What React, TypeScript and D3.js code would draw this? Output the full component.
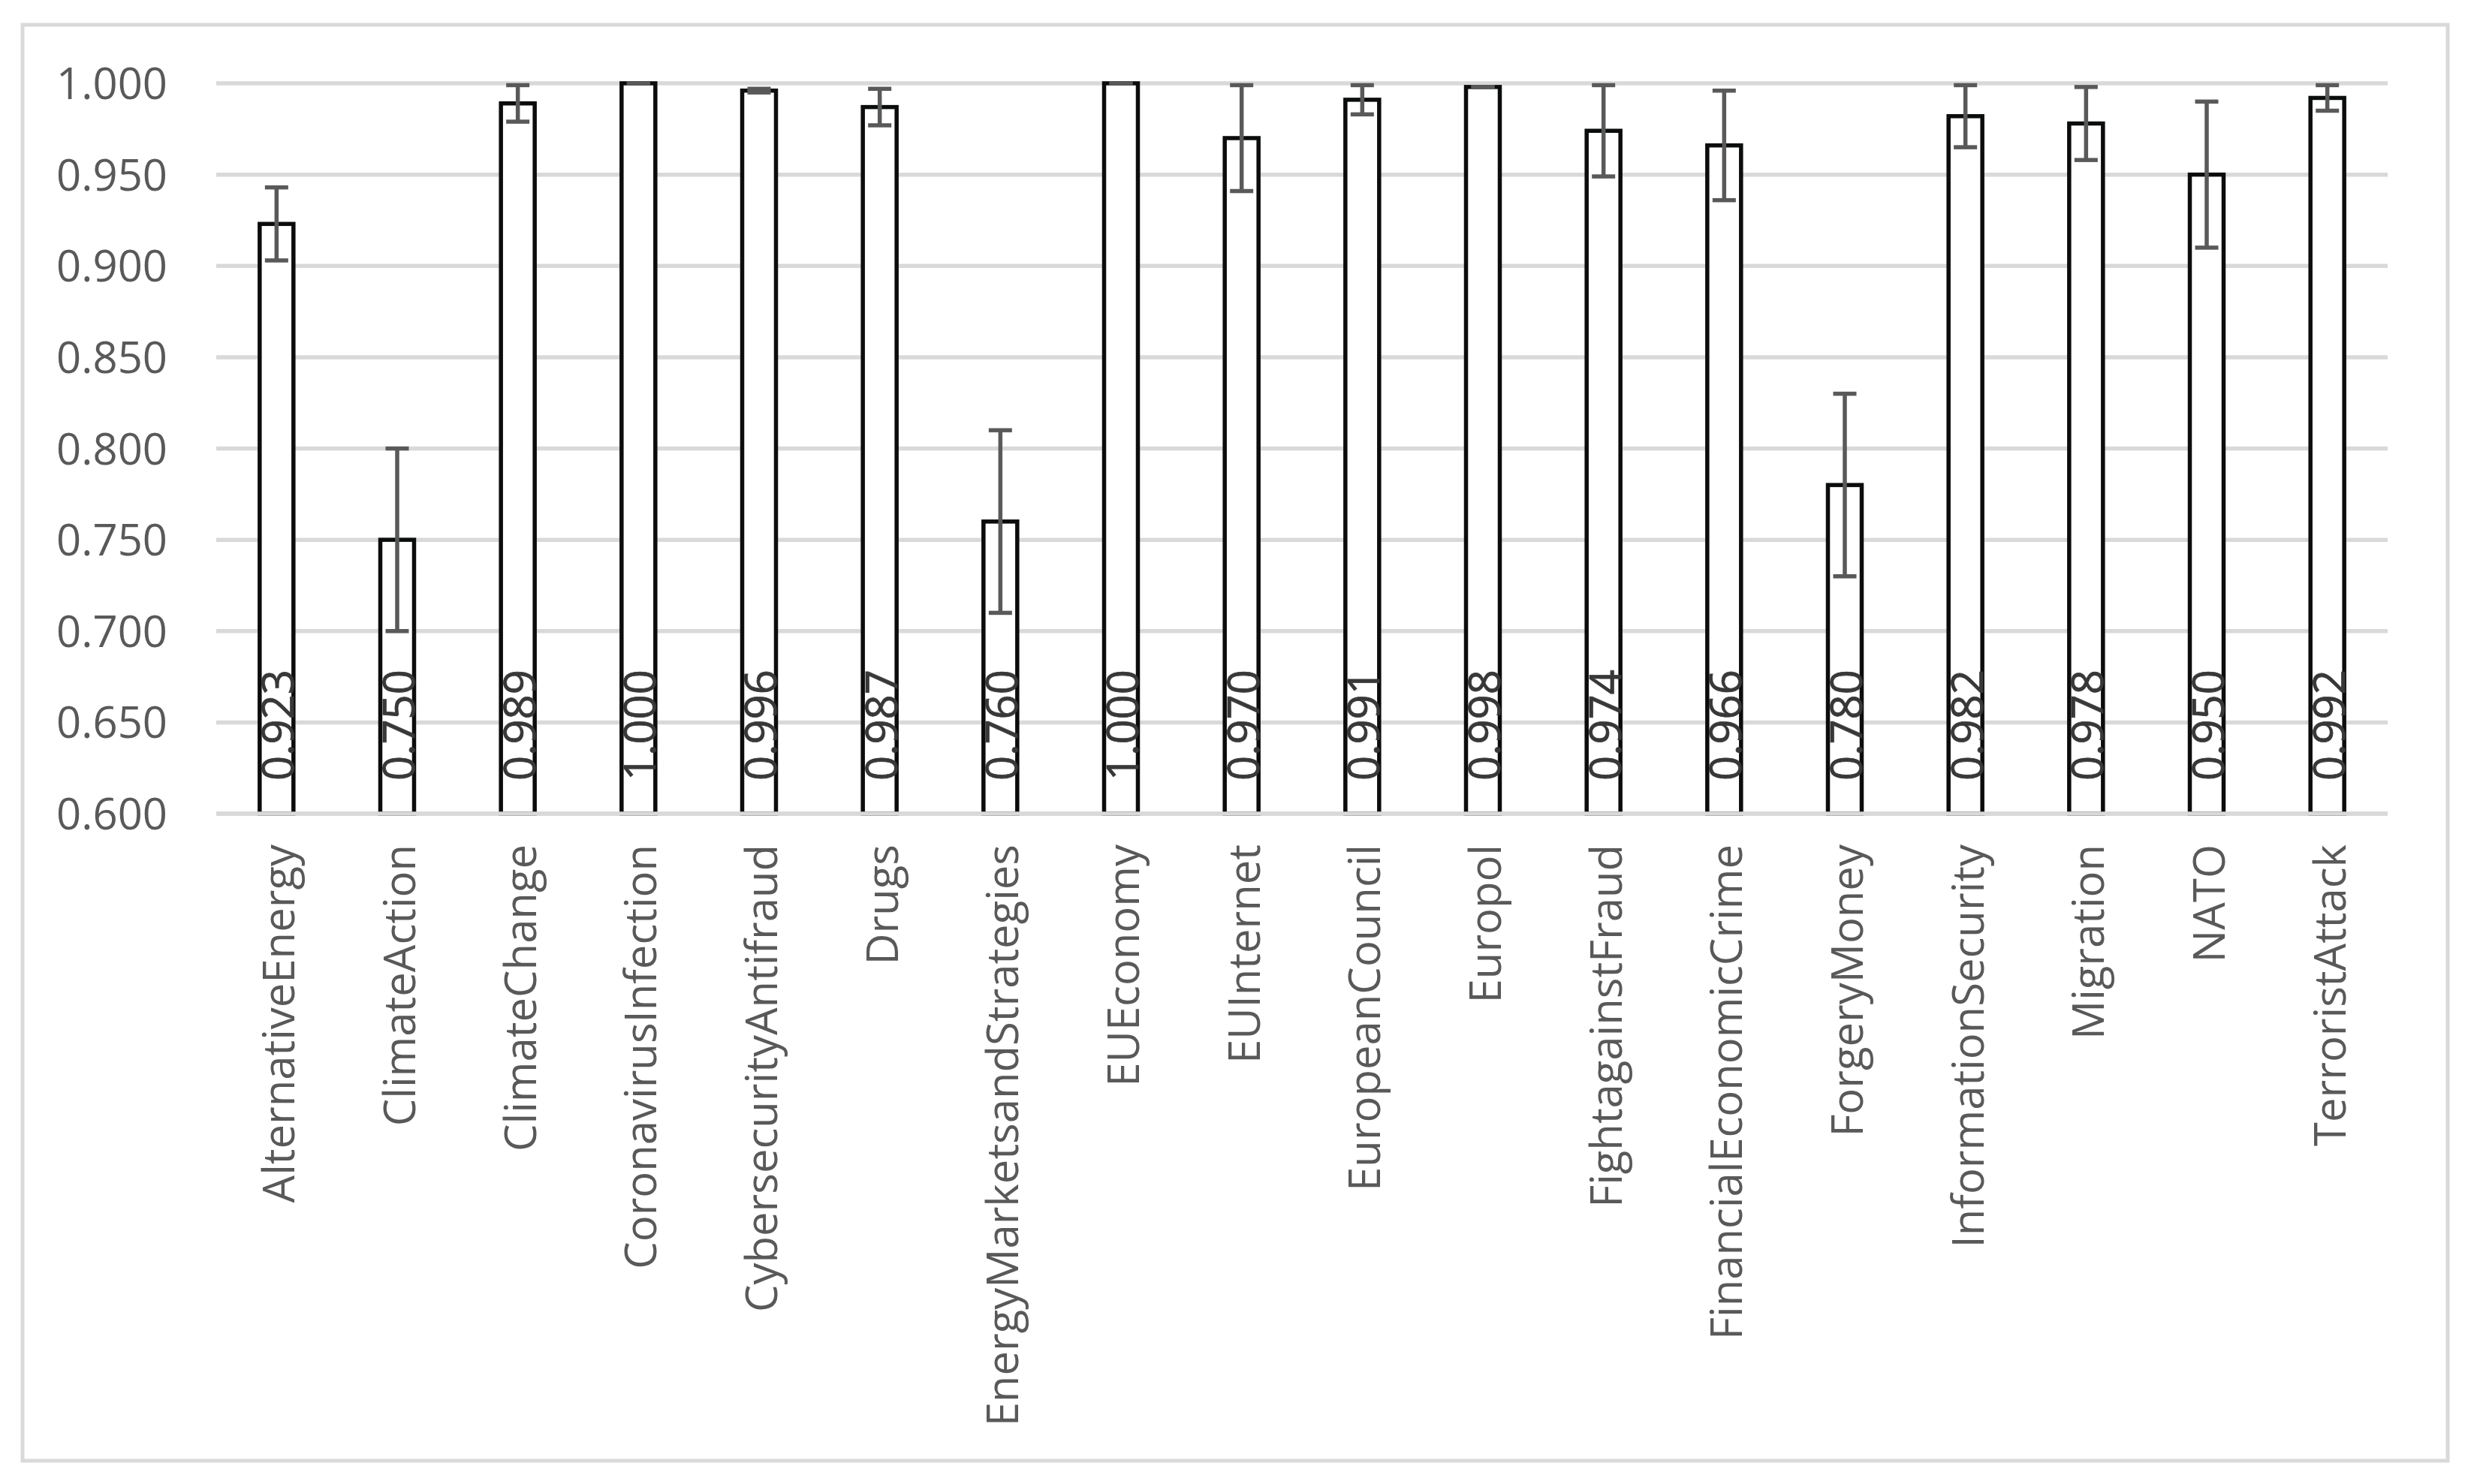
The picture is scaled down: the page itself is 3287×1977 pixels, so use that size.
import React from "react";
import * as d3 from "d3";

const categories = [
  "AlternativeEnergy",
  "ClimateAction",
  "ClimateChange",
  "CoronavirusInfection",
  "CybersecurityAntifraud",
  "Drugs",
  "EnergyMarketsandStrategies",
  "EUEconomy",
  "EUInternet",
  "EuropeanCouncil",
  "Europol",
  "FightagainstFraud",
  "FinancialEconomicCrime",
  "ForgeryMoney",
  "InformationSecurity",
  "Migration",
  "NATO",
  "TerroristAttack",
];
const values = [0.923, 0.75, 0.989, 1.0, 0.996, 0.987, 0.76, 1.0, 0.97, 0.991, 0.998, 0.974, 0.966, 0.78, 0.982, 0.978, 0.95, 0.992];
const errors = [0.02, 0.05, 0.01, 0.0, 0.001, 0.01, 0.05, 0.0, 0.029, 0.008, 0.0, 0.025, 0.03, 0.05, 0.017, 0.02, 0.04, 0.007];
const yTicks = [0.6, 0.65, 0.7, 0.75, 0.8, 0.85, 0.9, 0.95, 1.0];

const W = 3287;
const H = 1977;
const plot = { left: 288, right: 3180, top: 111, bottom: 1084 };
const FONT = "'Open Sans', 'Noto Sans', sans-serif";

export default function App() {
  const x = d3
    .scaleBand<string>()
    .domain(categories)
    .range([plot.left, plot.right])
    .paddingInner(0.72)
    .paddingOuter(0.36);
  const y = d3.scaleLinear().domain([0.6, 1.0]).range([plot.bottom, plot.top]);
  const fmt = d3.format(".3f");
  const bw = x.bandwidth();
  const capW = 31;

  return (
    <svg
      width={W}
      height={H}
      style={{ position: "absolute", left: 0, top: 0, background: "#fff" }}
    >
      <rect x={0} y={0} width={W} height={H} fill="#fff" />
      <rect x={30} y={33} width={3230} height={1913} fill="#fff" stroke="#d9d9d9" strokeWidth={5} />
      {yTicks.map((t) => (
        <line key={"g" + t} x1={plot.left} x2={plot.right} y1={y(t)} y2={y(t)} stroke="#d9d9d9" strokeWidth={5.5} />
      ))}
      {yTicks.map((t) => (
        <text
          key={"t" + t}
          x={223}
          y={y(t) + 21}
          textAnchor="end"
          fontFamily={FONT}
          fontSize={58}
          fill="#595959"
        >
          {fmt(t)}
        </text>
      ))}
      {categories.map((c, i) => {
        const x0 = x(c)!;
        const yt = y(values[i]);
        return (
          <rect key={"b" + c} x={x0} y={yt} width={bw} height={plot.bottom - yt} fill="#fff" stroke="#0b0d0c" strokeWidth={5.5} />
        );
      })}
      <line x1={plot.left} x2={plot.right} y1={y(0.6)} y2={y(0.6)} stroke="#d9d9d9" strokeWidth={5.5} />
      {categories.map((c, i) => {
        const cx = x(c)! + bw / 2;
        const hi = y(Math.min(1.0, values[i] + errors[i]));
        const lo = y(values[i] - errors[i]);
        return (
          <g key={"e" + c} stroke="#595959" strokeWidth={5.5}>
            <line x1={cx} x2={cx} y1={hi} y2={lo} />
            <line x1={cx - capW / 2} x2={cx + capW / 2} y1={hi} y2={hi} />
            <line x1={cx - capW / 2} x2={cx + capW / 2} y1={lo} y2={lo} />
          </g>
        );
      })}
      {categories.map((c, i) => {
        const cx = x(c)! + bw / 2;
        return (
          <text
            key={"v" + c}
            transform={`translate(${cx + 23},${1040}) rotate(-90)`}
            textAnchor="start"
            fontFamily={FONT}
            fontSize={58}
            fill="#383838"
            stroke="#383838"
            strokeWidth={0.8}
          >
            {fmt(values[i])}
          </text>
        );
      })}
      {categories.map((c) => {
        const cx = x(c)! + bw / 2;
        return (
          <text
            key={"c" + c}
            transform={`translate(${cx + 24},${1125}) rotate(-90)`}
            textAnchor="end"
            fontFamily={FONT}
            fontSize={58}
            fill="#595959"
          >
            {c}
          </text>
        );
      })}
    </svg>
  );
}
